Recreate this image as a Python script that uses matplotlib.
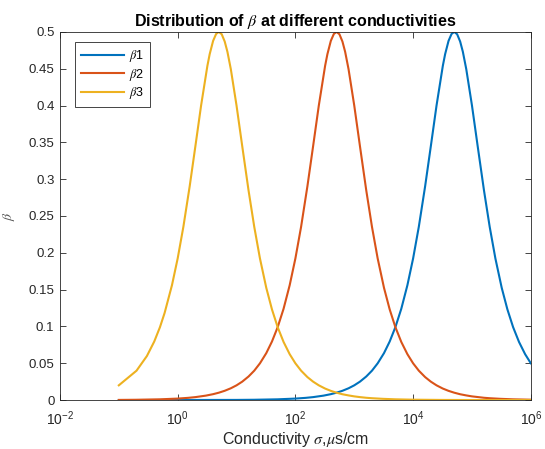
import matplotlib
matplotlib.use('Agg')
import matplotlib.pyplot as plt
from matplotlib.ticker import NullLocator

plt.rcParams['font.family'] = ['Liberation Sans', 'DejaVu Sans']
plt.rcParams['mathtext.fontset'] = 'stix'

# beta1, peak near 5e4
x1 = [0.1, 10, 20, 50, 100, 150, 200, 300, 400, 500, 630, 800, 1000, 1250,
      1600, 2000, 2500, 3200, 4000, 5000, 6300, 8000,
      1e4, 1.25e4, 1.6e4, 2e4, 2.5e4, 3.2e4, 3.5e4, 4e4, 4.5e4, 5e4, 5.6e4,
      6.3e4, 7e4, 8e4, 1e5, 1.25e5, 1.6e5, 2e5, 2.5e5, 3.2e5, 4e5, 5e5, 6.3e5,
      8e5, 1e6]
b1 = [0.0, 0.0002, 0.0004, 0.001, 0.002, 0.003, 0.004, 0.006, 0.008, 0.01,
      0.0126, 0.016, 0.02, 0.025, 0.032, 0.0399, 0.0499, 0.0637, 0.0795,
      0.099, 0.124, 0.156, 0.1923, 0.2353, 0.2903, 0.3448, 0.4, 0.454, 0.4698,
      0.4878, 0.4972, 0.5, 0.4968, 0.4869, 0.473, 0.4494, 0.4, 0.3448, 0.2847,
      0.2353, 0.1923, 0.1525, 0.1231, 0.099, 0.0789, 0.0623, 0.0499]

# beta2, peak near 500
x2 = [0.1, 0.2, 0.5, 1, 1.5, 2, 3, 4, 5, 6.3, 8, 10, 12.5, 16, 20, 25, 32, 40,
      50, 63, 80, 100, 125, 160, 200, 250, 320, 350, 400, 450, 500, 560, 630,
      700, 800, 1000, 1250, 1600, 2000, 2500, 3200, 4000, 5000, 6300, 8000,
      1e4, 1.25e4, 1.6e4, 2e4, 2.5e4, 3.2e4, 4e4, 5e4, 6.3e4, 8e4, 1e5, 1.6e5,
      2e5, 3e5, 5e5, 1e6]
b2 = [0.0002, 0.0004, 0.001, 0.002, 0.003, 0.004, 0.006, 0.008, 0.01, 0.0126,
      0.016, 0.02, 0.025, 0.032, 0.0399, 0.0499, 0.0637, 0.0795, 0.099, 0.124,
      0.156, 0.1923, 0.2353, 0.2903, 0.3448, 0.4, 0.454, 0.4698, 0.4878,
      0.4972, 0.5, 0.4968, 0.4869, 0.473, 0.4494, 0.4, 0.3448, 0.2847, 0.2353,
      0.1923, 0.1525, 0.1231, 0.099, 0.0789, 0.0623, 0.0499, 0.0399, 0.0312,
      0.025, 0.02, 0.0156, 0.0125, 0.01, 0.0079, 0.0063, 0.005, 0.0031, 0.0025,
      0.0017, 0.001, 0.0005]

# beta3, peak near 5
x3 = [0.1, 0.2, 0.3, 0.4, 0.5, 0.6, 0.8, 1.0, 1.25, 1.6, 2, 2.5, 3.2, 3.5, 4,
      4.5, 5, 5.6, 6.3, 7, 8, 10, 12.5, 16, 20, 25, 32, 40, 50, 63, 80, 100,
      125, 160, 200, 250, 320, 400, 500, 630, 800, 1000, 1250, 1600, 2000,
      3000, 5000, 1e4, 3e4, 1e5, 1e6]
b3 = [0.02, 0.0399, 0.0598, 0.0795, 0.099, 0.1183, 0.156, 0.1923, 0.2353,
      0.2903, 0.3448, 0.4, 0.454, 0.4698, 0.4878, 0.4972, 0.5, 0.4968, 0.4869,
      0.473, 0.4494, 0.4, 0.3448, 0.2847, 0.2353, 0.1923, 0.1525, 0.1231, 0.099,
      0.0789, 0.0623, 0.0499, 0.0399, 0.0312, 0.025, 0.02, 0.0156, 0.0125, 0.01,
      0.0079, 0.0063, 0.005, 0.004, 0.0031, 0.0025, 0.0017, 0.001, 0.0005,
      0.00017, 0.00005, 0.000005]

labels = [r'$\beta$1', r'$\beta$2', r'$\beta$3']
colors = ['#0072BD', '#D95319', '#EDB120']
xticks = [1e-2, 1e0, 1e2, 1e4, 1e6]
yticks = [0, 0.05, 0.1, 0.15, 0.2, 0.25, 0.3, 0.35, 0.4, 0.45, 0.5]

fig = plt.figure(figsize=(5.45, 4.49), dpi=100)
ax = fig.add_axes([0.110, 0.109, 0.864, 0.820])

for xs, ys, lab, c in zip([x1, x2, x3], [b1, b2, b3], labels, colors):
    ax.plot(xs, ys, color=c, lw=1.5, label=lab)

ax.set_xscale('log')
ax.set_xlim(1e-2, 1e6)
ax.set_ylim(0, 0.5)
ax.set_xticks(xticks)
ax.set_yticks(yticks)
ax.set_yticklabels(['0', '0.05', '0.1', '0.15', '0.2', '0.25', '0.3', '0.35',
                    '0.4', '0.45', '0.5'])
ax.xaxis.set_minor_locator(NullLocator())
ax.tick_params(direction='in', top=True, right=True, length=4, width=0.6,
               labelsize=9.5, colors='#262626', pad=4)
ax.tick_params(axis='x', labelsize=10, pad=7)
for s in ax.spines.values():
    s.set_color('#262626')
    s.set_linewidth(0.6)

ax.set_title(r'Distribution of $\beta$ at different conductivities',
             fontsize=11.5, fontweight='bold', pad=4)
ax.set_xlabel(r'Conductivity $\sigma$,$\mu$s/cm', fontsize=11.5,
              color='#262626', labelpad=1)
ax.set_ylabel(r'$\beta$', fontsize=10, color='#555555', labelpad=8)

leg = ax.legend(loc='upper left', bbox_to_anchor=(0.032, 0.973),
                borderaxespad=0, fontsize=9, handlelength=3.4,
                fancybox=False, framealpha=1, borderpad=0.5,
                labelspacing=0.2, handletextpad=0.4)
leg.get_frame().set_edgecolor('#262626')
leg.get_frame().set_linewidth(0.6)

fig.savefig('out.png', dpi=100)
